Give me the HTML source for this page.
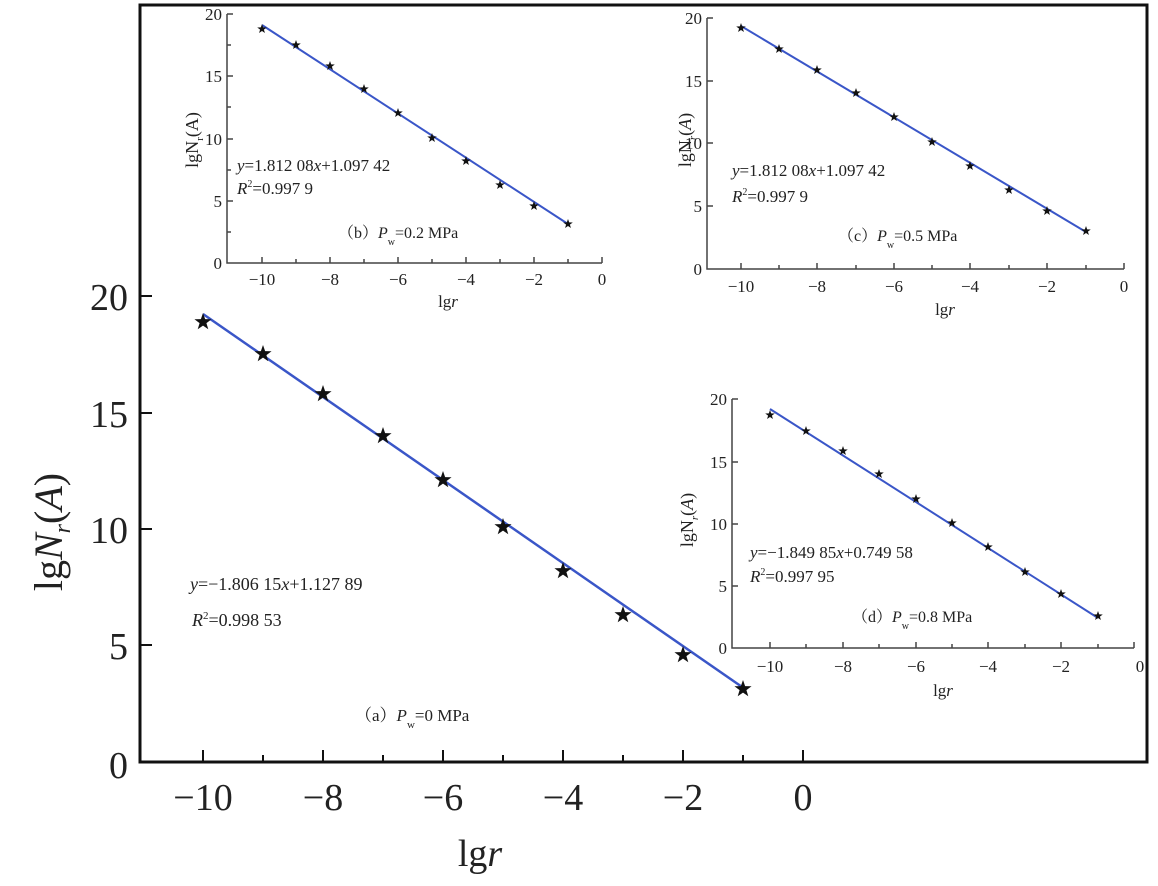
<!DOCTYPE html>
<html><head><meta charset="utf-8"><style>
body{margin:0;background:#fff}
svg{display:block}
text{font-family:"Liberation Serif","Noto Serif CJK SC",serif;fill:#222}
</style></head><body>
<svg width="1158" height="886" viewBox="0 0 1158 886" xmlns="http://www.w3.org/2000/svg">
<defs>
<polygon id="st" points="0,-1 0.235,-0.324 0.951,-0.309 0.38,0.124 0.588,0.809 0,0.4 -0.588,0.809 -0.38,0.124 -0.951,-0.309 -0.235,-0.324" fill="#111"/>
</defs>
<!-- main frame -->
<rect x="140" y="5" width="1007" height="757" fill="none" stroke="#111" stroke-width="3"/>
<g stroke="#111" stroke-width="2">
<line x1="140" y1="296" x2="152" y2="296"/><line x1="140" y1="413" x2="152" y2="413"/><line x1="140" y1="529" x2="152" y2="529"/><line x1="140" y1="645" x2="152" y2="645"/>
<line x1="203" y1="762" x2="203" y2="750"/><line x1="323" y1="762" x2="323" y2="750"/><line x1="443" y1="762" x2="443" y2="750"/><line x1="563" y1="762" x2="563" y2="750"/><line x1="683" y1="762" x2="683" y2="750"/><line x1="803" y1="762" x2="803" y2="750"/>
<line x1="263" y1="762" x2="263" y2="755"/><line x1="383" y1="762" x2="383" y2="755"/><line x1="503" y1="762" x2="503" y2="755"/><line x1="623" y1="762" x2="623" y2="755"/><line x1="743" y1="762" x2="743" y2="755"/>
</g>
<g font-size="38" text-anchor="end">
<text x="128" y="310">20</text><text x="128" y="427">15</text><text x="128" y="543">10</text><text x="128" y="659">5</text><text x="128" y="778">0</text>
</g>
<g font-size="38" text-anchor="middle">
<text x="203" y="810">−10</text><text x="323" y="810">−8</text><text x="443" y="810">−6</text><text x="563" y="810">−4</text><text x="683" y="810">−2</text><text x="803" y="810">0</text>
<text x="480" y="866">lg<tspan font-style="italic">r</tspan></text>
</g>
<text font-size="40" text-anchor="middle" transform="translate(62,532) rotate(-90)">lg<tspan font-style="italic">N</tspan><tspan font-size="24" font-style="italic" dy="8">r</tspan><tspan dy="-8">(</tspan><tspan font-style="italic">A</tspan>)</text>
<line x1="203" y1="314" x2="745" y2="689" stroke="#3a56c8" stroke-width="2.5"/>
<g>
<use href="#st" transform="translate(203,322) scale(9)"/><use href="#st" transform="translate(263,354) scale(9)"/><use href="#st" transform="translate(323,394) scale(9)"/><use href="#st" transform="translate(383,436) scale(9)"/><use href="#st" transform="translate(443,480) scale(9)"/><use href="#st" transform="translate(503,527) scale(9)"/><use href="#st" transform="translate(563,571) scale(9)"/><use href="#st" transform="translate(623,615) scale(9)"/><use href="#st" transform="translate(683,655) scale(9)"/><use href="#st" transform="translate(743,689) scale(9)"/>
</g>
<text x="190" y="590" font-size="18"><tspan font-style="italic">y</tspan>=−1.806 15<tspan font-style="italic">x</tspan>+1.127 89</text>
<text x="192" y="626" font-size="18"><tspan font-style="italic">R</tspan><tspan font-size="11" dy="-7">2</tspan><tspan dy="7">=0.998 53</tspan></text>
<text x="355" y="721" font-size="17">（a）<tspan font-style="italic">P</tspan><tspan font-size="11" dy="7">w</tspan><tspan dy="-7">=0 MPa</tspan></text>

<!-- inset b -->
<g stroke="#444" stroke-width="1.5" fill="none">
<polyline points="227,14 227,263 602,263"/>
<line x1="227" y1="14" x2="233" y2="14"/><line x1="227" y1="76" x2="233" y2="76"/><line x1="227" y1="139" x2="233" y2="139"/><line x1="227" y1="201" x2="233" y2="201"/>
<line x1="227" y1="45" x2="231" y2="45"/><line x1="227" y1="107" x2="231" y2="107"/><line x1="227" y1="170" x2="231" y2="170"/><line x1="227" y1="232" x2="231" y2="232"/>
<line x1="262" y1="263" x2="262" y2="257"/><line x1="296" y1="263" x2="296" y2="259"/><line x1="330" y1="263" x2="330" y2="257"/><line x1="364" y1="263" x2="364" y2="259"/><line x1="398" y1="263" x2="398" y2="257"/><line x1="432" y1="263" x2="432" y2="259"/><line x1="466" y1="263" x2="466" y2="257"/><line x1="500" y1="263" x2="500" y2="259"/><line x1="534" y1="263" x2="534" y2="257"/><line x1="568" y1="263" x2="568" y2="259"/><line x1="602" y1="263" x2="602" y2="257"/>
</g>
<g font-size="17" text-anchor="end"><text x="222" y="20">20</text><text x="222" y="82">15</text><text x="222" y="145">10</text><text x="222" y="207">5</text><text x="222" y="269">0</text></g>
<g font-size="17" text-anchor="middle"><text x="262" y="285">−10</text><text x="330" y="285">−8</text><text x="398" y="285">−6</text><text x="466" y="285">−4</text><text x="534" y="285">−2</text><text x="602" y="285">0</text>
<text x="448" y="307">lg<tspan font-style="italic">r</tspan></text></g>
<text font-size="18" text-anchor="middle" transform="translate(198,140) rotate(-90)">lgN<tspan font-size="11" dy="5">r</tspan><tspan dy="-5">(A)</tspan></text>
<line x1="262" y1="25" x2="568" y2="224" stroke="#3a56c8" stroke-width="2"/>
<g><use href="#st" transform="translate(262,29) scale(5)"/><use href="#st" transform="translate(296,45) scale(5)"/><use href="#st" transform="translate(330,66) scale(5)"/><use href="#st" transform="translate(364,89) scale(5)"/><use href="#st" transform="translate(398,113) scale(5)"/><use href="#st" transform="translate(432,138) scale(5)"/><use href="#st" transform="translate(466,161) scale(5)"/><use href="#st" transform="translate(500,185) scale(5)"/><use href="#st" transform="translate(534,206) scale(5)"/><use href="#st" transform="translate(568,224) scale(5)"/></g>
<text x="237" y="171" font-size="17"><tspan font-style="italic">y</tspan>=1.812 08<tspan font-style="italic">x</tspan>+1.097 42</text>
<text x="237" y="194" font-size="17"><tspan font-style="italic">R</tspan><tspan font-size="10" dy="-7">2</tspan><tspan dy="7">=0.997 9</tspan></text>
<text x="338" y="238" font-size="16">（b）<tspan font-style="italic">P</tspan><tspan font-size="10" dy="7">w</tspan><tspan dy="-7">=0.2 MPa</tspan></text>

<!-- inset c -->
<g stroke="#444" stroke-width="1.5" fill="none">
<polyline points="707,18 707,269 1124,269"/>
<line x1="707" y1="18" x2="713" y2="18"/><line x1="707" y1="81" x2="713" y2="81"/><line x1="707" y1="143" x2="713" y2="143"/><line x1="707" y1="206" x2="713" y2="206"/>
<line x1="741" y1="269" x2="741" y2="263"/><line x1="779" y1="269" x2="779" y2="265"/><line x1="817" y1="269" x2="817" y2="263"/><line x1="856" y1="269" x2="856" y2="265"/><line x1="894" y1="269" x2="894" y2="263"/><line x1="932" y1="269" x2="932" y2="265"/><line x1="970" y1="269" x2="970" y2="263"/><line x1="1009" y1="269" x2="1009" y2="265"/><line x1="1047" y1="269" x2="1047" y2="263"/><line x1="1086" y1="269" x2="1086" y2="265"/><line x1="1124" y1="269" x2="1124" y2="263"/>
</g>
<g font-size="17" text-anchor="end"><text x="702" y="24">20</text><text x="702" y="87">15</text><text x="702" y="149">10</text><text x="702" y="212">5</text><text x="702" y="275">0</text></g>
<g font-size="17" text-anchor="middle"><text x="741" y="292">−10</text><text x="817" y="292">−8</text><text x="894" y="292">−6</text><text x="970" y="292">−4</text><text x="1047" y="292">−2</text><text x="1124" y="292">0</text>
<text x="945" y="315">lg<tspan font-style="italic">r</tspan></text></g>
<text font-size="18" text-anchor="middle" transform="translate(691,140) rotate(-90)">lgN<tspan font-size="11" dy="5" font-style="italic">r</tspan><tspan dy="-5">(</tspan><tspan font-style="italic">A</tspan>)</text>
<line x1="741" y1="26" x2="1086" y2="232" stroke="#3a56c8" stroke-width="2"/>
<g><use href="#st" transform="translate(741,28) scale(5)"/><use href="#st" transform="translate(779,49) scale(5)"/><use href="#st" transform="translate(817,70) scale(5)"/><use href="#st" transform="translate(856,93) scale(5)"/><use href="#st" transform="translate(894,117) scale(5)"/><use href="#st" transform="translate(932,142) scale(5)"/><use href="#st" transform="translate(970,166) scale(5)"/><use href="#st" transform="translate(1009,190) scale(5)"/><use href="#st" transform="translate(1047,211) scale(5)"/><use href="#st" transform="translate(1086,231) scale(5)"/></g>
<text x="732" y="176" font-size="17"><tspan font-style="italic">y</tspan>=1.812 08<tspan font-style="italic">x</tspan>+1.097 42</text>
<text x="732" y="202" font-size="17"><tspan font-style="italic">R</tspan><tspan font-size="10" dy="-7">2</tspan><tspan dy="7">=0.997 9</tspan></text>
<text x="838" y="241" font-size="16">（c）<tspan font-style="italic">P</tspan><tspan font-size="10" dy="7">w</tspan><tspan dy="-7">=0.5 MPa</tspan></text>

<!-- inset d -->
<g stroke="#444" stroke-width="1.5" fill="none">
<polyline points="732,399 732,648 1134,648"/>
<line x1="732" y1="399" x2="738" y2="399"/><line x1="732" y1="462" x2="738" y2="462"/><line x1="732" y1="524" x2="738" y2="524"/><line x1="732" y1="586" x2="738" y2="586"/>
<line x1="770" y1="648" x2="770" y2="642"/><line x1="806" y1="648" x2="806" y2="644"/><line x1="843" y1="648" x2="843" y2="642"/><line x1="879" y1="648" x2="879" y2="644"/><line x1="916" y1="648" x2="916" y2="642"/><line x1="952" y1="648" x2="952" y2="644"/><line x1="988" y1="648" x2="988" y2="642"/><line x1="1025" y1="648" x2="1025" y2="644"/><line x1="1061" y1="648" x2="1061" y2="642"/><line x1="1098" y1="648" x2="1098" y2="644"/><line x1="1134" y1="648" x2="1134" y2="642"/>
</g>
<g font-size="17" text-anchor="end"><text x="727" y="405">20</text><text x="727" y="468">15</text><text x="727" y="530">10</text><text x="727" y="592">5</text><text x="727" y="654">0</text></g>
<g font-size="17" text-anchor="middle"><text x="770" y="672">−10</text><text x="843" y="672">−8</text><text x="916" y="672">−6</text><text x="988" y="672">−4</text><text x="1061" y="672">−2</text><text x="1140" y="672">0</text>
<text x="943" y="696">lg<tspan font-style="italic">r</tspan></text></g>
<text font-size="18" text-anchor="middle" transform="translate(693,520) rotate(-90)">lgN<tspan font-size="11" dy="5" font-style="italic">r</tspan><tspan dy="-5">(</tspan><tspan font-style="italic">A</tspan>)</text>
<line x1="770" y1="409" x2="1098" y2="618" stroke="#3a56c8" stroke-width="2"/>
<g><use href="#st" transform="translate(770,415) scale(5)"/><use href="#st" transform="translate(806,431) scale(5)"/><use href="#st" transform="translate(843,451) scale(5)"/><use href="#st" transform="translate(879,474) scale(5)"/><use href="#st" transform="translate(916,499) scale(5)"/><use href="#st" transform="translate(952,523) scale(5)"/><use href="#st" transform="translate(988,547) scale(5)"/><use href="#st" transform="translate(1025,572) scale(5)"/><use href="#st" transform="translate(1061,594) scale(5)"/><use href="#st" transform="translate(1098,616) scale(5)"/></g>
<text x="750" y="558" font-size="17"><tspan font-style="italic">y</tspan>=−1.849 85<tspan font-style="italic">x</tspan>+0.749 58</text>
<text x="750" y="582" font-size="17"><tspan font-style="italic">R</tspan><tspan font-size="10" dy="-7">2</tspan><tspan dy="7">=0.997 95</tspan></text>
<text x="852" y="622" font-size="16">（d）<tspan font-style="italic">P</tspan><tspan font-size="10" dy="7">w</tspan><tspan dy="-7">=0.8 MPa</tspan></text>
</svg>
</body></html>
